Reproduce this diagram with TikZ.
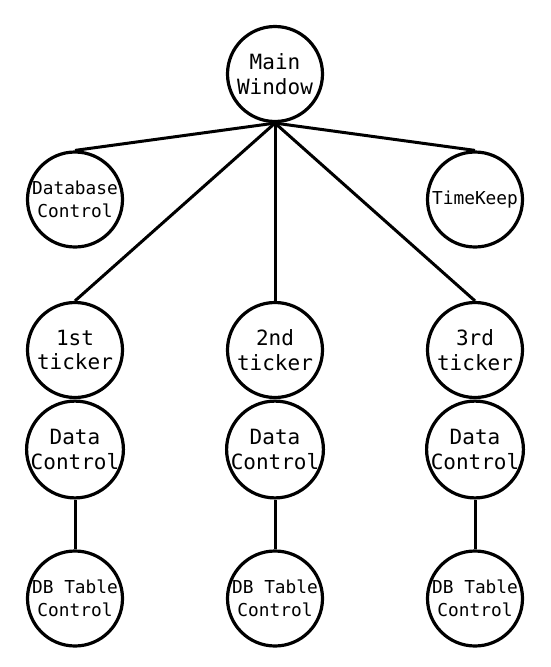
\documentclass[tikz,border=0pt]{standalone}
\usepackage{fontspec}
\setmonofont{DejaVu Sans Mono}
\begin{document}
\begin{tikzpicture}[x=1pt,y=-1pt,
  nd/.style={circle,draw=black,line width=3.2pt,fill=white,inner sep=0pt,minimum size=95pt,align=center,font=\ttfamily\fontsize{21}{24.5}\selectfont},
  sm/.style={nd,font=\ttfamily\fontsize{17.8}{23}\selectfont},
  edge/.style={draw=black,line width=3pt}]
\useasboundingbox (0,0) rectangle (550,667);
\node[nd] (mw) at (275,74) {Main\\Window};
\node[sm] (dbc) at (75,199.5) {Database\\Control};
\node[sm] (tk) at (475,199.5) {TimeKeep};
\node[nd] (t1) at (75,350) {1st\\ticker};
\node[nd] (t2) at (275,350) {2nd\\ticker};
\node[nd] (t3) at (475,350) {3rd\\ticker};
\node[nd] (d1) at (75,449.5) {Data\\Control};
\node[nd] (d2) at (275,449.5) {Data\\Control};
\node[nd] (d3) at (475,449.5) {Data\\Control};
\node[sm] (b1) at (75,598.5) {DB Table\\Control};
\node[sm] (b2) at (275,598.5) {DB Table\\Control};
\node[sm] (b3) at (475,598.5) {DB Table\\Control};
\path[edge] (mw.south) -- (dbc.north);
\path[edge] (mw.south) -- (tk.north);
\path[edge] (mw.south) -- (t1.north);
\path[edge] (mw.south) -- (t2.north);
\path[edge] (mw.south) -- (t3.north);
\path[edge] (d1.south) -- (b1.north);
\path[edge] (d2.south) -- (b2.north);
\path[edge] (d3.south) -- (b3.north);
\end{tikzpicture}
\end{document}
